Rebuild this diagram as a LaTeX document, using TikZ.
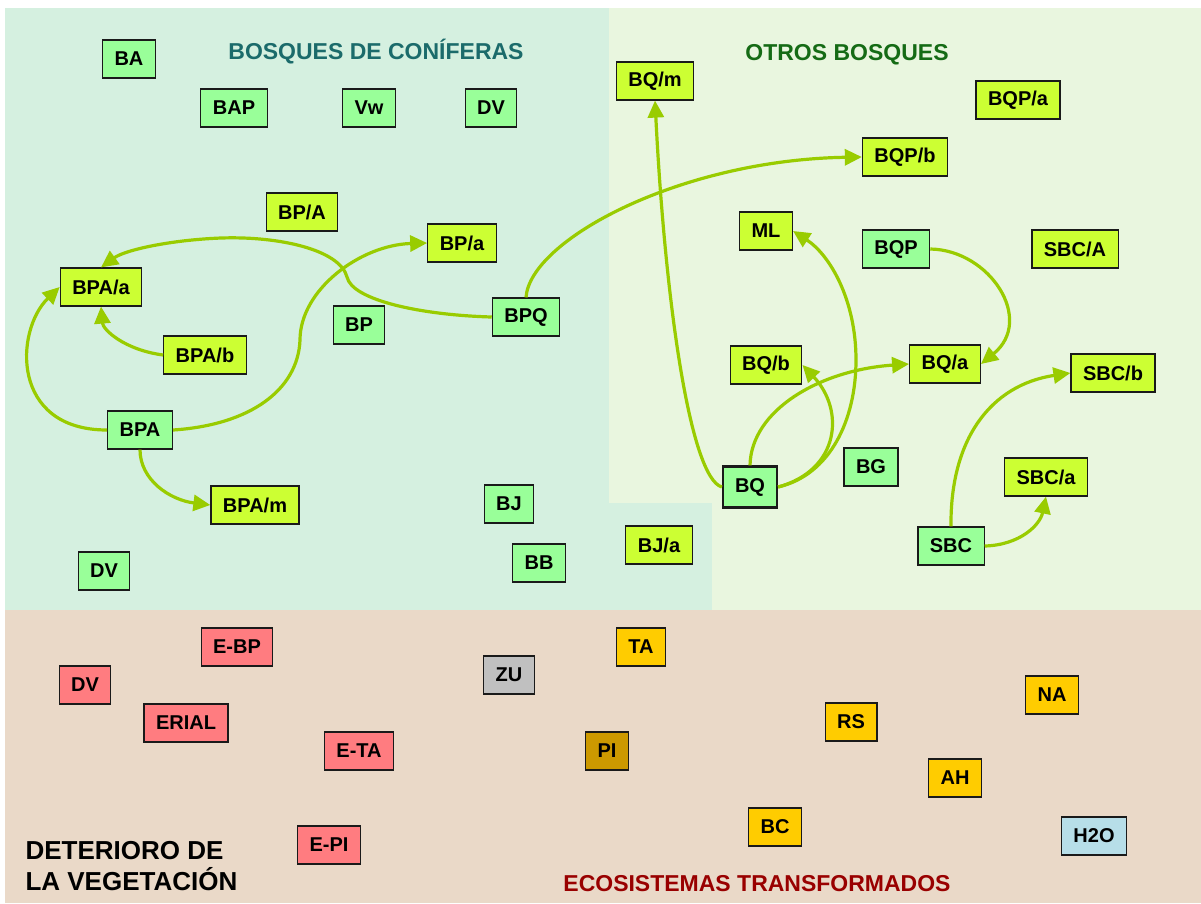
\documentclass[tikz,border=0pt]{standalone}
\usepackage{fontspec}
\setmainfont{Liberation Sans}
\usetikzlibrary{arrows.meta,positioning}
\definecolor{conifbg}{HTML}{D5F0E0}
\definecolor{otrosbg}{HTML}{E9F6DF}
\definecolor{deterbg}{HTML}{EAD9C8}
\definecolor{pinegreen}{HTML}{99FF99}
\definecolor{limegreen}{HTML}{CCFF33}
\definecolor{rosered}{HTML}{FF7C80}
\definecolor{goldbox}{HTML}{FFCC00}
\definecolor{ochrebox}{HTML}{CC9900}
\definecolor{greybox}{HTML}{C0C0C0}
\definecolor{waterbox}{HTML}{B7DEE8}
\definecolor{linkgreen}{HTML}{99CC00}
\definecolor{boxline}{HTML}{1A1A1A}
\definecolor{coniftitle}{HTML}{1B6B6B}
\definecolor{otrostitle}{HTML}{156B15}
\definecolor{ecotitle}{HTML}{990000}

\begin{document}
\begin{tikzpicture}[x=1pt, y=-1pt, >={Triangle[length=17pt,width=16pt]},
  every node/.style={font=\bfseries\fontsize{20}{23}\selectfont},
  box/.style={draw=boxline, line width=1.2pt, inner xsep=12pt, inner ysep=0pt,
              minimum height=38pt},
  pine/.style={box, fill=pinegreen},
  lime/.style={box, fill=limegreen},
  rose/.style={box, fill=rosered},
  gold/.style={box, fill=goldbox},
  title/.style={font=\bfseries\fontsize{23}{27}\selectfont},
  link/.style={->, draw=linkgreen, line width=3.2pt}]
  \useasboundingbox (0,0) rectangle (1201,903);
  % Background regions
  \fill[conifbg] (5,8) rectangle (609,610);
  \fill[conifbg] (609,503) rectangle (712,610);
  \fill[otrosbg] (609,8) rectangle (1201,503);
  \fill[otrosbg] (712,503) rectangle (1201,610);
  \fill[deterbg] (5,610) rectangle (1201,903);
  % Region titles
  \node[title, text=coniftitle] (tconif) at (376,52) {BOSQUES DE CONÍFERAS};
  \node[title, text=otrostitle] (totros) at (847,55) {OTROS BOSQUES};
  \node[title, text=ecotitle] (teco) at (757,884) {ECOSISTEMAS TRANSFORMADOS};
  \node[font=\bfseries\fontsize{26}{31}\selectfont, align=left, anchor=west]
    (tdeter) at (22,866) {DETERIORO DE\\LA VEGETACIÓN};
  % Coniferous forests
  \node[pine] (ba)    at (129,59)  {BA};
  \node[pine] (bap)   at (234,108) {BAP};
  \node[pine] (vw)    at (369,108) {Vw};
  \node[pine] (dvtop) at (491,108) {DV};
  \node[lime] (bpA)   at (302,212) {BP/A};
  \node[lime] (bpa)   at (462,243) {BP/a};
  \node[lime] (bpaa)  at (101,287) {BPA/a};
  \node[pine] (bp)    at (359,325) {BP};
  \node[pine] (bpq)   at (526,317) {BPQ};
  \node[lime] (bpab)  at (205,355) {BPA/b};
  \node[pine] (bpat)  at (140,430) {BPA};
  \node[lime] (bpam)  at (255,505) {BPA/m};
  \node[pine] (bj)    at (509,504) {BJ};
  \node[lime] (bja)   at (659,545) {BJ/a};
  \node[pine] (bb)    at (539,563) {BB};
  \node[pine] (dvlow) at (104,571) {DV};
  % Other forests
  \node[lime] (bqm)   at (655,81)  {BQ/m};
  \node[lime] (bqpa)  at (1018,100) {BQP/a};
  \node[lime] (bqpb)  at (905,157) {BQP/b};
  \node[lime] (ml)    at (766,231) {ML};
  \node[pine] (bqp)   at (896,249) {BQP};
  \node[lime] (sbcA)  at (1075,249) {SBC/A};
  \node[lime] (bqb)   at (766,365) {BQ/b};
  \node[lime] (bqa)   at (945,364) {BQ/a};
  \node[lime] (sbcb)  at (1113,373) {SBC/b};
  \node[pine] (bg)    at (871,467) {BG};
  \node[pine, line width=2.2pt, minimum height=41pt] (bq) at (750,487) {BQ};
  \node[lime] (sbca)  at (1046,477) {SBC/a};
  \node[pine] (sbc)   at (951,546) {SBC};
  % Degraded and transformed
  \node[rose] (ebp)   at (237,647) {E-BP};
  \node[rose] (dvred) at (85,685)  {DV};
  \node[box, fill=greybox] (zu) at (509,675) {ZU};
  \node[gold] (ta)    at (641,647) {TA};
  \node[rose] (erial) at (186,723) {ERIAL};
  \node[rose] (eta)   at (359,751) {E-TA};
  \node[box, fill=ochrebox] (pi) at (607,751) {PI};
  \node[gold] (rs)    at (851,722) {RS};
  \node[gold] (na)    at (1052,695) {NA};
  \node[gold] (ah)    at (955,778) {AH};
  \node[gold] (bc)    at (775,827) {BC};
  \node[box, fill=waterbox] (hto) at (1094,836) {H2O};
  \node[rose] (epi)   at (329,845) {E-PI};
  % Coniferous links
  \draw[link] (bpq.west) .. controls (420,315) and (352,300) .. (347,277)
    .. controls (340,250) and (280,236) .. (221,238)
    .. controls (170,240) and (125,250) .. (bpaa.north);
  \draw[link] (bpat.east) .. controls (250,425) and (298,390) .. (300,340)
    .. controls (300,290) and (360,245) .. (bpa.west);
  \draw[link] (bpat.west) .. controls (10,430) and (15,330) .. (bpaa.west);
  \draw[link] (bpab.west) .. controls (125,350) and (103,330) .. (bpaa.south);
  \draw[link] (bpat.south) .. controls (140,480) and (170,500) .. (bpam.west);
  \draw[link] (bpq.north) .. controls (530,240) and (680,160) .. (bqpb.west);
  % Other forest links
  \draw[link] (bq.west) .. controls (690,478) and (665,300) .. (bqm.south);
  \draw[link] (bq.east) .. controls (830,475) and (856,420) .. (856,360)
    .. controls (856,300) and (830,255) .. (ml.east);
  \draw[link] (bq.east) .. controls (840,470) and (845,410) .. (bqb.east);
  \draw[link] (bq.north) .. controls (751,410) and (820,370) .. (bqa.west);
  \draw[link] (bqp.east) .. controls (990,250) and (1035,320) .. (bqa.east);
  \draw[link] (sbc.north) .. controls (950,440) and (990,385) .. (sbcb.west);
  \draw[link] (sbc.east) .. controls (1020,545) and (1040,525) .. (sbca.south);
\end{tikzpicture}
\end{document}
